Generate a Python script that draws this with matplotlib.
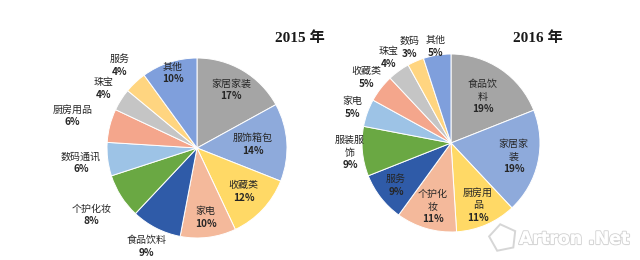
import matplotlib
matplotlib.use("Agg")
import matplotlib.pyplot as plt
import matplotlib.patheffects as pe
from matplotlib.patches import RegularPolygon
import numpy as np

# ---------------- data ----------------
cats_2015 = ["家居家装", "服饰箱包", "收藏类", "家电", "食品饮料", "个护化妆",
             "数码通讯", "厨房用品", "珠宝", "服务", "其他"]
vals_2015 = [17, 14, 12, 10, 9, 8, 6, 6, 4, 4, 10]

cats_2016 = ["食品饮料", "家居家装", "厨房用品", "个护化妆", "服务", "服装服饰",
             "家电", "收藏类", "珠宝", "数码", "其他"]
vals_2016 = [19, 19, 11, 11, 9, 9, 5, 5, 4, 3, 5]

titles = ["2015 年", "2016 年"]

# ---------------- style ----------------
colors = ["#a5a5a5", "#8eaadb", "#ffd966", "#f4b99b", "#2f5ba8", "#6aa843",
          "#9dc3e6", "#f4a68c", "#c5c5c5", "#ffd580", "#7f9fdc"]
# radial label distance (fraction of radius) per slice
dist_2015 = [0.75, 0.62, 0.71, 0.78, 1.23, 1.39, 1.30, 1.43, 1.23, 1.26, 0.88]
dist_2016 = [0.63, 0.72, 0.76, 0.745, 0.78, 1.14, 1.18, 1.20, 1.19, 1.17, 1.10]

W, H = 640, 260
fig = plt.figure(figsize=(6.4, 2.6), dpi=100)
ax = fig.add_axes([0, 0, 1, 1])
ax.set_xlim(0, W)
ax.set_ylim(0, H)
ax.axis("off")

CJK = ["Noto Sans CJK SC", "DejaVu Sans"]
txt_color = "#262626"
line_h = 12.5


def draw_pie(cx, cy_px, r, cats, vals, dists, wrap, title, title_xy):
    cy = H - cy_px
    ax.pie(vals, colors=colors, startangle=90, counterclock=False,
           center=(cx, cy), radius=r, frame=True,
           wedgeprops=dict(edgecolor="white", linewidth=0.7))
    total = float(sum(vals))
    cum = 0.0
    for c, v, d in zip(cats, vals, dists):
        mid = (cum + v / 2) / total * 360.0
        cum += v
        ang = np.deg2rad(90 - mid)
        x = cx + r * d * np.cos(ang)
        y = cy + r * d * np.sin(ang)
        if wrap and len(c) > wrap:
            name_lines = [c[:wrap], c[wrap:]]
        else:
            name_lines = [c]
        lines = name_lines + [f"{v}%"]
        L = len(lines)
        for i, s in enumerate(lines):
            yy = y + (L - 1) / 2 * line_h - i * line_h
            bold = (i == L - 1)
            ax.text(x, yy, s, ha="center", va="center", fontsize=7.2,
                    family=CJK, color=txt_color,
                    fontweight="bold" if bold else "normal")
    ax.text(title_xy[0], H - title_xy[1], title, ha="center", va="center",
            fontsize=11, fontweight="bold",
            family=["Liberation Serif", "Noto Sans CJK SC"], color="#1a1a1a")


draw_pie(197, 148, 90, cats_2015, vals_2015, dist_2015, None, titles[0], (300, 38))
draw_pie(451, 143, 89, cats_2016, vals_2016, dist_2016, 3, titles[1], (538, 38))

ax.set_xlim(0, W)
ax.set_ylim(0, H)
ax.set_aspect("equal")

# watermark (hollow light-grey text + pentagon logo)
wm = ax.text(519, H - 239, "Artron .Net", ha="left", va="center", fontsize=12.5,
             fontweight="bold", family="DejaVu Sans", color="white")
wm.set_path_effects([pe.withStroke(linewidth=1.6, foreground="#d6d6d6"),
                     pe.Normal()])
ax.add_patch(RegularPolygon((503, H - 238), numVertices=5, radius=14,
                            orientation=0.2, facecolor="none",
                            edgecolor="#d6d6d6", linewidth=1.4))

fig.savefig("out.png", dpi=100, facecolor="white")
